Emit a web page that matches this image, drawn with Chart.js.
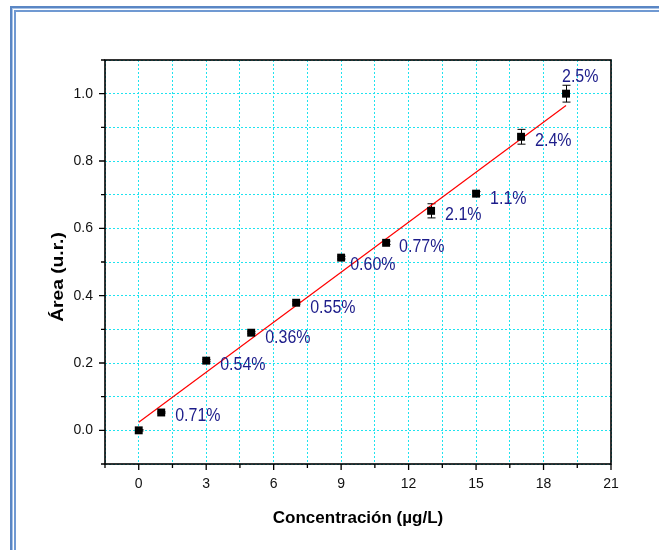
<!DOCTYPE html>
<html>
<head>
<meta charset="utf-8">
<script src="https://cdn.jsdelivr.net/npm/chart.js@4"></script>
<style>
  html, body { margin: 0; padding: 0; background: #fff; overflow: hidden; }
  body { width: 659px; height: 550px; position: relative; }
  .frame-out { position: absolute; left: 10px; top: 6px; width: 800px; height: 700px;
    border-left: 2px solid #5a86c4; border-top: 2px solid #5a86c4;
    box-shadow: inset 1px 1px 0 #a9c3e6; }
  .frame-in { position: absolute; left: 14px; top: 10px; width: 800px; height: 700px;
    border-left: 2px solid #7099d2; border-top: 2px solid #7099d2; }
  #chart { position: absolute; left: 0; top: 0; }
</style>
</head>
<body>
<div class="frame-out"></div>
<div class="frame-in"></div>
<canvas id="chart" width="659" height="550"></canvas>
<script>
// data
const concentration = [0, 1, 3, 5, 7, 9, 11, 13, 15, 17, 19];
const area = [0.0, 0.053, 0.207, 0.29, 0.379, 0.513, 0.557, 0.652, 0.703, 0.872, 1.0];
const areaError = [0.002, 0.002, 0.003, 0.003, 0.004, 0.004, 0.005, 0.021, 0.006, 0.022, 0.025];
const rsdLabels = ['', '0.71%', '0.54%', '0.36%', '0.55%', '0.60%', '0.77%', '2.1%', '1.1%', '2.4%', '2.5%'];

// fitted line end points
const fitX = [0, 19];
const fitY = [0.024, 0.965];

// tick labels
const xTickLabels = [0, 3, 6, 9, 12, 15, 18, 21];
const yTickLabels = [0.0, 0.2, 0.4, 0.6, 0.8, 1.0];

// label placement relative to each point (px)
const labelOffsets = [[0, 0], [14, 4], [14, 5], [14, 5], [14, 5], [9, 8], [13, 4], [14, 4], [14, 5], [14, 4], [-4, -17]];

const canvas = document.getElementById('chart');
const FONT = '"Liberation Sans", Arial, sans-serif';

function isLabelled(list, v) {
  return list.some(t => Math.abs(t - v) < 1e-6);
}

// error bars, box, tick marks, y title and the % labels
const extras = {
  id: 'extras',
  beforeDatasetsDraw(chart) {
    const ctx = chart.ctx;
    const xs = chart.scales.x, ys = chart.scales.y;
    ctx.save();
    ctx.strokeStyle = '#000';
    ctx.lineWidth = 1;
    concentration.forEach((c, i) => {
      const px = Math.round(xs.getPixelForValue(c)) + 0.5;
      const top = ys.getPixelForValue(area[i] + areaError[i]);
      const bot = ys.getPixelForValue(area[i] - areaError[i]);
      ctx.beginPath();
      ctx.moveTo(px, top); ctx.lineTo(px, bot);
      ctx.moveTo(px - 4, top); ctx.lineTo(px + 4, top);
      ctx.moveTo(px - 4, bot); ctx.lineTo(px + 4, bot);
      ctx.stroke();
    });
    ctx.restore();
  },
  afterDraw(chart) {
    const ctx = chart.ctx;
    const a = chart.chartArea;
    const xs = chart.scales.x, ys = chart.scales.y;
    ctx.save();
    // plot box
    ctx.strokeStyle = '#000';
    ctx.lineWidth = 1.6;
    ctx.strokeRect(a.left, a.top, a.right - a.left, a.bottom - a.top);
    // tick marks, long on labelled ticks
    ctx.lineWidth = 1.3;
    ctx.beginPath();
    xs.ticks.forEach(t => {
      const px = xs.getPixelForValue(t.value);
      const len = isLabelled(xTickLabels, t.value) ? 6 : 4;
      ctx.moveTo(px, a.bottom); ctx.lineTo(px, a.bottom + len);
    });
    ys.ticks.forEach(t => {
      const py = ys.getPixelForValue(t.value);
      const len = isLabelled(yTickLabels, t.value) ? 6 : 4;
      ctx.moveTo(a.left, py); ctx.lineTo(a.left - len, py);
    });
    ctx.stroke();

    // y axis title (the figure is slightly stretched vertically)
    ctx.save();
    ctx.translate(58, 277);
    ctx.rotate(-Math.PI / 2);
    ctx.scale(1.13, 1);
    ctx.fillStyle = '#000';
    ctx.font = 'bold 17px ' + FONT;
    ctx.textAlign = 'center';
    ctx.textBaseline = 'middle';
    ctx.fillText('Área (u.r.)', 0, 0);
    ctx.restore();

    // RSD labels, same slight vertical stretch
    ctx.fillStyle = '#1c1c8a';
    ctx.font = '16px ' + FONT;
    ctx.textAlign = 'left';
    ctx.textBaseline = 'middle';
    rsdLabels.forEach((txt, i) => {
      if (!txt) return;
      const px = xs.getPixelForValue(concentration[i]);
      const py = ys.getPixelForValue(area[i]);
      ctx.save();
      ctx.translate(px + labelOffsets[i][0], py + labelOffsets[i][1]);
      ctx.scale(1, 1.1);
      ctx.fillText(txt, 0, 0);
      ctx.restore();
    });
    ctx.restore();
  }
};

const gridStyle = { color: '#1fe3ef', lineWidth: 1, drawTicks: false };

new Chart(canvas, {
  type: 'scatter',
  data: {
    datasets: [{
      label: 'Área',
      data: concentration.map((c, i) => ({ x: c, y: area[i] })),
      pointStyle: 'rect',
      pointRadius: 5.6,
      backgroundColor: '#000',
      borderWidth: 0
    }, {
      label: 'Ajuste',
      data: fitX.map((c, i) => ({ x: c, y: fitY[i] })),
      showLine: true,
      borderColor: '#ff0000',
      borderWidth: 1.2,
      pointRadius: 0
    }]
  },
  options: {
    responsive: false,
    animation: false,
    layout: { padding: { top: 60, right: 48, left: 0, bottom: 0 } },
    plugins: { legend: { display: false }, tooltip: { enabled: false } },
    scales: {
      x: {
        type: 'linear',
        min: -1.5, max: 21,
        afterFit(scale) { scale.height = 86; },
        grid: gridStyle,
        border: { display: false, dash: [2, 2] },
        ticks: {
          stepSize: 1.5,
          autoSkip: false,
          maxRotation: 0,
          padding: 12,
          color: '#111',
          font: { family: FONT, size: 14 },
          callback: v => isLabelled(xTickLabels, v) ? String(v) : ''
        },
        title: {
          display: true,
          text: 'Concentración (µg/L)',
          color: '#000',
          font: { family: FONT, size: 17, weight: 'bold' },
          padding: { top: 0, bottom: 21 }
        }
      },
      y: {
        min: -0.1, max: 1.1,
        afterFit(scale) { scale.width = 105; },
        grid: gridStyle,
        border: { display: false, dash: [2, 2] },
        ticks: {
          stepSize: 0.1,
          autoSkip: false,
          padding: 12,
          color: '#111',
          font: { family: FONT, size: 14 },
          callback: v => isLabelled(yTickLabels, v) ? v.toFixed(1) : ''
        }
      }
    }
  },
  plugins: [extras]
});
</script>
</body>
</html>
